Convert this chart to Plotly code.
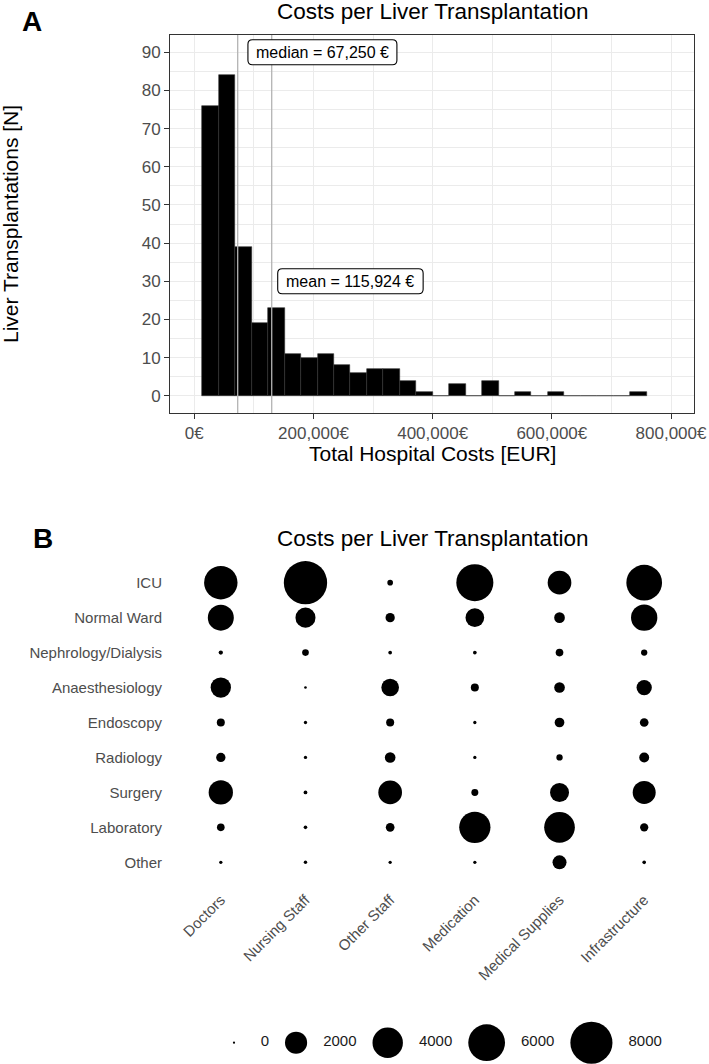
import numpy as np
import plotly.graph_objects as go

W, H = 709, 1064
FONT = "Liberation Sans, Arial, Helvetica, sans-serif"

# ---------------- Panel A data (histogram) ----------------
bin_start = 13400          # left edge of first bin (EUR)
bin_width = 27620          # bin width (EUR)
bin_counts = [76, 84, 39, 19, 23, 11, 10, 11, 8, 6, 7, 7, 4, 1, 0, 3, 0, 4,
              0, 1, 0, 1, 0, 0, 0, 0, 1]
x_tick_vals = [0, 200000, 400000, 600000, 800000]
x_tick_text = ["0€", "200,000€", "400,000€", "600,000€", "800,000€"]
y_tick_vals = [0, 10, 20, 30, 40, 50, 60, 70, 80, 90]
median_label = "median = 67,250 €"
mean_label = "mean = 115,924 €"
median_line_x = 72800
mean_line_x = 129900
median_label_xy = [215000, 90]
mean_label_xy = [262000, 30]

# ---------------- Panel B data (bubble matrix) ----------------
cost_centres = ["ICU", "Normal Ward", "Nephrology/Dialysis", "Anaesthesiology",
                "Endoscopy", "Radiology", "Surgery", "Laboratory", "Other"]
cost_types = ["Doctors", "Nursing Staff", "Other Staff", "Medication",
              "Medical Supplies", "Infrastructure"]
doctors = [4900, 2850, 22, 1650, 170, 255, 2450, 150, 6]
nursing_staff = [8500, 1600, 100, 1, 6, 6, 12, 10, 8]
other_staff = [60, 250, 11, 1200, 170, 360, 2320, 210, 6]
medication = [6100, 1370, 11, 170, 6, 6, 115, 4250, 6]
medical_supplies = [2320, 360, 150, 360, 285, 85, 1420, 4080, 700]
infrastructure = [5640, 2920, 85, 860, 210, 305, 2175, 185, 10]
legend_breaks = [0, 2000, 4000, 6000, 8000]

# size scale (diameter in px = min + k*sqrt(value))
SIZE_MIN = 2.2
SIZE_K = 0.446

# approximate Arial advance widths (em) for label box sizing
CW = {"m": .833, "e": .556, "d": .556, "i": .222, "a": .556, "n": .556, " ": .278,
      "=": .584, ",": .278, "€": .556}


def text_w(s, size):
    return sum(CW.get(c, .556) for c in s) * size


def diam(v):
    return SIZE_MIN + SIZE_K * np.sqrt(np.asarray(v, dtype=float))


def px_x(px):
    return px / W


def px_y(py):
    return 1 - py / H


# layout geometry (px)
A_left, A_right, A_top, A_bot = 170, 694, 35, 413
B_left, B_right, B_top, B_bot = 170, 695, 561.7, 883.3
XR = [-40800, 838600]
YR = [-4.5, 94.5]


def a_px(x, y):
    px = A_left + (x - XR[0]) / (XR[1] - XR[0]) * (A_right - A_left)
    py = A_bot - (y - YR[0]) / (YR[1] - YR[0]) * (A_bot - A_top)
    return px, py


def rounded_rect(cx, cy, w, h, r):
    x0, x1, y0, y1 = cx - w / 2, cx + w / 2, cy - h / 2, cy + h / 2
    return (f"M {x0 + r},{y0} L {x1 - r},{y0} Q {x1},{y0} {x1},{y0 + r} "
            f"L {x1},{y1 - r} Q {x1},{y1} {x1 - r},{y1} L {x0 + r},{y1} "
            f"Q {x0},{y1} {x0},{y1 - r} L {x0},{y0 + r} Q {x0},{y0} {x0 + r},{y0} Z")


fig = go.Figure()

# ---- histogram
edges = bin_start + bin_width * np.arange(len(bin_counts) + 1)
centers = (edges[:-1] + edges[1:]) / 2
fig.add_trace(go.Bar(
    x=centers, y=bin_counts, width=bin_width,
    marker=dict(color="black", line=dict(color="#333333", width=0.6)),
    xaxis="x", yaxis="y", showlegend=False, hoverinfo="x+y"))

# ---- bubbles
columns = [doctors, nursing_staff, other_staff, medication, medical_supplies, infrastructure]
bx, by, bv = [], [], []
for t, col in zip(cost_types, columns):
    for c, v in zip(cost_centres, col):
        bx.append(t)
        by.append(c)
        bv.append(v)
fig.add_trace(go.Scatter(
    x=bx, y=by, mode="markers",
    marker=dict(size=diam(bv), sizemode="diameter", color="black", opacity=1,
                line=dict(width=0)),
    xaxis="x2", yaxis="y2", showlegend=False, text=[str(v) for v in bv],
    hoverinfo="x+y+text", cliponaxis=False))

# ---- size legend (drawn in a pixel-coordinate overlay)
leg_y = 1042.7
label_font = 15
cursor = 225.35
key_x, lab_x = [], []
for i, b in enumerate(legend_breaks):
    d = float(diam(b))
    kw = max(d, 17.3)
    key_x.append(cursor + kw / 2)
    cursor += kw + (18 if i == 0 else 16)
    lab_x.append(cursor)
    cursor += len(str(b)) * 0.556 * label_font + 16
fig.add_trace(go.Scatter(
    x=key_x, y=[leg_y] * len(legend_breaks), mode="markers",
    marker=dict(size=diam(legend_breaks), sizemode="diameter", color="black", opacity=1,
                line=dict(width=0)),
    xaxis="x3", yaxis="y3", showlegend=False, hoverinfo="skip", cliponaxis=False))
fig.add_trace(go.Scatter(
    x=lab_x, y=[leg_y] * len(legend_breaks), mode="text",
    text=[str(b) for b in legend_breaks], textposition="middle right",
    textfont=dict(family=FONT, size=label_font, color="#1a1a1a"),
    xaxis="x3", yaxis="y3", showlegend=False, hoverinfo="skip", cliponaxis=False))

grid = "#EBEBEB"
tickfont = dict(family=FONT, size=17, color="#4D4D4D")

fig.update_layout(
    width=W, height=H, autosize=False,
    margin=dict(l=0, r=0, t=0, b=0, pad=0, autoexpand=False),
    paper_bgcolor="white", plot_bgcolor="rgba(0,0,0,0)",
    bargap=0,
    font=dict(family=FONT, color="black"),
    xaxis=dict(
        domain=[px_x(A_left), px_x(A_right)], anchor="y", automargin=False,
        range=XR, tickvals=x_tick_vals, ticktext=x_tick_text,
        showgrid=True, gridcolor=grid, gridwidth=1.1,
        minor=dict(dtick=100000, tick0=0, showgrid=True, gridcolor=grid, gridwidth=0.6),
        zeroline=False, showline=True, linecolor="#333333", linewidth=1, mirror=True,
        ticks="outside", ticklen=5, tickcolor="#333333", tickwidth=1,
        tickfont=tickfont),
    yaxis=dict(
        domain=[px_y(A_bot), px_y(A_top)], anchor="x", automargin=False,
        range=YR, tickvals=y_tick_vals,
        showgrid=True, gridcolor=grid, gridwidth=1.1,
        minor=dict(dtick=5, tick0=5, showgrid=True, gridcolor=grid, gridwidth=0.6),
        zeroline=False, showline=True, linecolor="#333333", linewidth=1, mirror=True,
        ticks="outside", ticklen=5, tickcolor="#333333", tickwidth=1,
        tickfont=tickfont),
    xaxis2=dict(
        domain=[px_x(B_left), px_x(B_right)], anchor="y2", automargin=False,
        type="category", categoryorder="array", categoryarray=cost_types,
        range=[-0.6, len(cost_types) - 0.4],
        showgrid=False, zeroline=False, showline=False,
        ticks="", tickangle=-45, ticklabelstandoff=4,
        tickfont=dict(family=FONT, size=15, color="#4D4D4D")),
    yaxis2=dict(
        domain=[px_y(B_bot), px_y(B_top)], anchor="x2", automargin=False,
        type="category", categoryorder="array", categoryarray=cost_centres,
        range=[len(cost_centres) - 0.4, -0.6],
        showgrid=False, zeroline=False, showline=False,
        ticks="", ticklabelstandoff=7,
        tickfont=dict(family=FONT, size=15, color="#4D4D4D")),
    xaxis3=dict(domain=[0, 1], anchor="y3", range=[0, W], visible=False, fixedrange=True,
                automargin=False),
    yaxis3=dict(domain=[0, 1], anchor="x3", range=[H, 0], visible=False, fixedrange=True,
                automargin=False),
)

# median / mean lines
for xv in [median_line_x, mean_line_x]:
    fig.add_shape(type="line", xref="x", yref="y domain", x0=xv, x1=xv, y0=0, y1=1,
                  line=dict(color="#B3B3B3", width=1.3), layer="above")

ann = []
for lab, (lx, ly) in [(median_label, median_label_xy), (mean_label, mean_label_xy)]:
    cx, cy = a_px(lx, ly)
    bw = text_w(lab, 16) + 16
    fig.add_shape(type="path", xref="x3", yref="y3", path=rounded_rect(cx, cy, bw, 25, 4.5),
                  fillcolor="white", line=dict(color="black", width=1.1), layer="above")
    ann.append(dict(x=lx, y=ly, xref="x", yref="y", text=lab, showarrow=False,
                    font=dict(family=FONT, size=16, color="black"),
                    xanchor="center", yanchor="middle"))

title_txt = "Costs per Liver Transplantation"
ann += [
    dict(x=px_x(432), y=px_y(11.5), xref="paper", yref="paper", text=title_txt, showarrow=False,
         font=dict(family=FONT, size=22.5, color="black"), xanchor="center", yanchor="middle"),
    dict(x=px_x(432), y=px_y(538), xref="paper", yref="paper", text=title_txt, showarrow=False,
         font=dict(family=FONT, size=22.5, color="black"), xanchor="center", yanchor="middle"),
    dict(x=px_x(31.7), y=px_y(21.7), xref="paper", yref="paper", text="<b>A</b>", showarrow=False,
         font=dict(family=FONT, size=28, color="black"), xanchor="center", yanchor="middle"),
    dict(x=px_x(42.8), y=px_y(538.3), xref="paper", yref="paper", text="<b>B</b>", showarrow=False,
         font=dict(family=FONT, size=28, color="black"), xanchor="center", yanchor="middle"),
    dict(x=px_x(432), y=px_y(453), xref="paper", yref="paper", text="Total Hospital Costs [EUR]",
         showarrow=False, font=dict(family=FONT, size=21, color="black"),
         xanchor="center", yanchor="middle"),
    dict(x=px_x(10), y=px_y(224), xref="paper", yref="paper", text="Liver Transplantations [N]",
         showarrow=False, textangle=-90, font=dict(family=FONT, size=21, color="black"),
         xanchor="center", yanchor="middle"),
]
fig.update_layout(annotations=ann)

fig.write_html(
    "out.html",
    config={"displayModeBar": False, "responsive": False},
    post_script=("document.documentElement.style.overflow='hidden';"
                 "document.body.style.margin='0';document.body.style.overflow='hidden';"))
